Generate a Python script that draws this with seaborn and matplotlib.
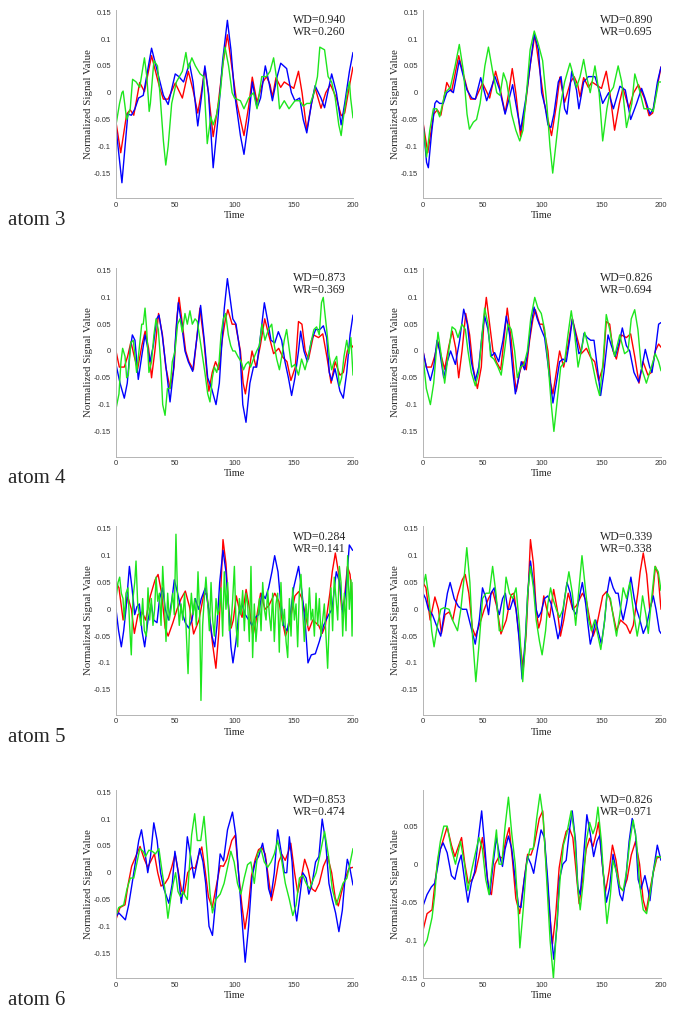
import matplotlib
matplotlib.use("Agg")
import matplotlib.pyplot as plt
import pandas as pd
import seaborn as sns

# ---- data: (time, value) pairs ----
# red = original signal, shared by both panels of a row
row1_red = [(0, -0.055), (4, -0.112), (9, -0.04), (12, -0.032), (15, -0.042), (20, 0.019), (24, 0.002), (30, 0.069),
            (37, 0.008), (40, -0.012), (44, -0.012), (50, 0.018), (56, -0.01), (61, 0.04), (65, 0.005), (69, -0.038),
            (72, 0.0), (75, 0.045), (78, 0.0), (82, -0.082), (86, -0.025), (90, 0.05), (94, 0.108), (97, 0.06),
            (102, -0.02), (108, -0.08), (112, -0.025), (115, 0.029), (119, -0.018), (124, 0.02), (127, 0.03),
            (130, 0.015), (132, -0.008), (135, 0.028), (139, 0.01), (142, 0.02), (146, 0.014), (150, 0.008),
            (154, 0.04), (157, 0.0), (161, -0.07), (165, -0.02), (168, 0.009), (173, -0.029), (177, 0.0),
            (181, 0.015), (186, -0.01), (190, -0.043), (193, -0.038), (197, 0.013), (200, 0.048)]
a3L_blue = [(0, -0.065), (5, -0.168), (10, -0.04), (13, -0.042), (16, -0.03), (19, -0.01), (23, -0.005), (30, 0.083),
            (36, 0.03), (40, -0.005), (44, -0.022), (50, 0.035), (53, 0.03), (57, 0.02), (62, 0.055), (65, 0.02),
            (69, -0.062), (72, -0.01), (75, 0.05), (78, 0.0), (82, -0.14), (86, -0.05), (90, 0.06), (94, 0.135),
            (97, 0.08), (100, 0.0), (105, -0.08), (108, -0.115), (112, -0.05), (115, 0.02), (119, -0.028),
            (122, -0.01), (126, 0.05), (129, 0.02), (132, -0.015), (136, 0.03), (139, 0.055), (144, 0.045),
            (148, 0.0), (151, -0.015), (155, -0.01), (158, -0.05), (161, -0.075), (165, -0.02), (168, 0.013),
            (173, -0.01), (176, -0.028), (182, 0.035), (186, 0.0), (190, -0.06), (193, -0.02), (197, 0.04),
            (200, 0.075)]
a3L_green = [(0, -0.06), (3, -0.02), (5, 0.0), (6, 0.003), (9, -0.05), (12, -0.03), (14, 0.025), (17, 0.02),
             (20, 0.01), (24, 0.065), (26, 0.03), (28, -0.035), (29, -0.02), (32, 0.06), (35, 0.05), (37, 0.0),
             (40, -0.09), (42, -0.135), (44, -0.1), (47, -0.02), (51, 0.02), (56, 0.04), (59, 0.075), (61, 0.045),
             (64, 0.065), (67, 0.05), (71, 0.035), (74, 0.03), (77, -0.095), (80, -0.045), (82, -0.06), (85, -0.04),
             (88, 0.0), (91, 0.07), (92, 0.085), (95, 0.05), (98, 0.0), (100, -0.01), (105, -0.015), (108, -0.03),
             (112, -0.01), (116, 0.0), (119, -0.03), (123, 0.03), (127, 0.03), (130, 0.04), (133, 0.065),
             (136, 0.02), (138, -0.03), (142, -0.015), (146, -0.03), (151, -0.015), (155, -0.015), (158, -0.025),
             (161, -0.02), (164, -0.02), (167, 0.0), (170, 0.03), (172, 0.085), (176, 0.08), (179, 0.03),
             (182, 0.02), (185, -0.01), (188, -0.06), (190, -0.08), (192, -0.045), (195, 0.0), (197, 0.02),
             (198, -0.01), (200, -0.047)]
a3R_blue = [(0, -0.055), (3, -0.13), (4.5, -0.14), (7, -0.08), (10, -0.02), (11.5, -0.015), (14, -0.02), (17, -0.02),
            (20, 0.0), (23, 0.005), (25.5, 0.0), (30.5, 0.06), (34, 0.03), (37, 0.005), (41, -0.01), (44, -0.012),
            (48.5, 0.028), (53.5, -0.015), (57.5, 0.01), (60.5, 0.03), (64.5, 0.005), (69, -0.04), (72.5, -0.01),
            (75.3, 0.015), (78, -0.02), (82, -0.07), (86.5, -0.01), (90, 0.05), (93.5, 0.11), (97, 0.08),
            (99.7, 0.0), (102.5, -0.025), (105, -0.06), (107.5, -0.065), (110, -0.04), (113.7, 0.02), (116, 0.03),
            (119, -0.03), (121, -0.04), (125, 0.04), (129, 0.005), (131, -0.03), (135, 0.02), (139, 0.03),
            (144.5, 0.03), (148.7, 0.0), (151, -0.02), (156, 0.0), (160, -0.03), (165.5, 0.012), (170, 0.005),
            (174.5, -0.05), (179.5, -0.02), (183.7, 0.008), (186.5, -0.01), (190.7, -0.04), (193.5, -0.03),
            (197, 0.02), (200, 0.048)]
a3R_green = [(0, -0.06), (3, -0.12), (5.7, -0.07), (8.7, -0.03), (11.5, -0.03), (14, -0.045), (18.5, 0.0), (23, 0.01),
             (27, 0.05), (30.5, 0.09), (34, 0.04), (37, -0.04), (39, -0.068), (42.3, -0.055), (45, -0.05),
             (48, -0.02), (52, 0.05), (55, 0.085), (58.5, 0.04), (62, 0.0), (64.7, -0.005), (67.6, 0.037),
             (70.3, 0.02), (74.5, -0.04), (78, -0.07), (81.3, -0.09), (84, -0.07), (87, 0.0), (90, 0.08),
             (93.5, 0.115), (97, 0.09), (100.5, 0.06), (104, -0.02), (106.7, -0.1), (109, -0.15), (112, -0.09),
             (115, -0.03), (119, 0.02), (123.5, 0.055), (126, 0.035), (129, 0.01), (132, 0.03), (135, 0.062),
             (137.5, 0.03), (140.5, 0.0), (144.5, 0.05), (148, 0.0), (151, -0.09), (154.5, -0.03), (157, 0.0),
             (160, 0.01), (164, 0.05), (167, 0.02), (171, -0.065), (175.5, -0.02), (178, 0.035), (182.5, 0.0),
             (185.7, -0.03), (190.7, -0.03), (193.5, -0.035), (198, 0.02), (200, 0.02)]

row2_red = [(0, 0.0), (2.8, -0.03), (7, -0.03), (9.8, -0.01), (12.6, 0.017), (15.4, -0.01), (18.2, -0.034),
            (21.8, 0.01), (24.6, 0.037), (27.5, 0.005), (30, -0.05), (32.8, 0.0), (35.9, 0.07), (39.2, 0.03),
            (42, -0.03), (45.7, -0.07), (49, -0.03), (51.3, 0.06), (53.2, 0.1), (56, 0.05), (58.8, 0.0),
            (61.6, -0.02), (65.3, -0.035), (68, 0.02), (70.8, 0.08), (74.2, 0.02), (77, -0.05), (78.4, -0.075),
            (81.2, -0.04), (84, -0.02), (86.8, -0.035), (89.6, 0.02), (92.4, 0.06), (94.4, 0.077), (98, 0.05),
            (100.8, 0.05), (105, 0.0), (107.3, -0.06), (109.2, -0.08), (112, -0.04), (114.8, 0.0), (118.2, -0.03),
            (121.8, 0.01), (125.5, 0.06), (128.9, 0.03), (133, -0.005), (137.3, 0.005), (140.9, -0.012),
            (144.3, -0.02), (147.6, -0.055), (151.3, -0.03), (154, 0.055), (156.9, 0.05), (159.7, 0.0),
            (162.5, -0.015), (166.7, 0.03), (170.9, 0.025), (174.5, 0.032), (177.9, -0.01), (181.5, -0.06),
            (184.9, -0.02), (189, -0.045), (191.9, -0.04), (195.2, 0.0), (198, 0.013), (200, 0.007)]
a4L_blue = [(0, -0.025), (3.4, -0.06), (7, -0.088), (9.5, -0.06), (11.8, 0.0), (13.8, 0.03), (16, 0.02),
            (18.8, -0.053), (21.7, -0.01), (24.5, 0.03), (26.4, 0.01), (28.7, -0.02), (31.5, 0.01), (34.3, 0.06),
            (36.3, 0.067), (39, 0.03), (42.2, -0.03), (45.6, -0.095), (48.4, -0.04), (50.4, 0.03), (52.6, 0.09),
            (55.4, 0.05), (58.2, 0.0), (61, -0.02), (64.7, -0.038), (68, 0.02), (71.4, 0.085), (74.5, 0.02),
            (77.4, -0.05), (80.7, -0.07), (84.4, -0.1), (87.2, -0.06), (89.2, 0.01), (91.4, 0.08), (94, 0.135),
            (96.2, 0.1), (98.6, 0.06), (101.3, 0.05), (104.6, 0.0), (107, -0.1), (109.7, -0.133), (113, -0.06),
            (116, -0.03), (118.7, -0.03), (121.5, 0.02), (125.2, 0.09), (127.7, 0.06), (130.8, 0.02), (134, 0.015),
            (137, 0.036), (139.8, 0.02), (142.6, -0.02), (145.5, -0.05), (148.2, -0.083), (151, -0.05), (154, 0.0),
            (155.8, 0.037), (158.6, 0.0), (161.5, -0.02), (165, 0.02), (168.5, 0.04), (172, 0.04), (175, 0.047),
            (177.8, 0.025), (180, -0.04), (182, -0.055), (184.8, -0.033), (189, -0.075), (191.8, -0.088),
            (194.7, -0.04), (197.5, 0.03), (200, 0.067)]
a4L_green = [(0, -0.108), (2.5, -0.08), (4.2, -0.02), (5.6, 0.005), (7.6, -0.01), (9, -0.05), (10.4, -0.045),
             (12.4, 0.015), (14.6, 0.02), (17.4, -0.04), (19.4, 0.0), (21.7, 0.05), (23, 0.05), (24.5, 0.08),
             (25.9, 0.04), (27.8, -0.04), (30, -0.02), (32, 0.03), (33.8, 0.06), (35.7, 0.04), (37.7, -0.02),
             (39.4, -0.1), (41.4, -0.12), (43.4, -0.07), (45.6, -0.07), (47.5, -0.02), (49.8, 0.0), (52, 0.05),
             (54, 0.06), (56, 0.035), (58.2, 0.07), (60.2, 0.05), (62.4, 0.075), (64.4, 0.05), (66.7, 0.06),
             (68.6, 0.055), (71, 0.02), (73, -0.01), (75, -0.04), (77.4, -0.08), (79.3, -0.095), (81.3, -0.05),
             (83, -0.03), (85, -0.04), (87, -0.02), (88.6, 0.03), (90.6, 0.06), (92.5, 0.07), (94.8, 0.03),
             (96.8, 0.01), (98.6, 0.0), (100.5, 0.0), (102.8, -0.01), (105.6, -0.02), (107.6, -0.035),
             (109.5, -0.025), (111.7, -0.02), (113.6, -0.03), (116, -0.015), (118.7, 0.0), (121, 0.01),
             (123.2, 0.05), (125.7, 0.02), (128.6, 0.04), (131.4, 0.05), (133.6, 0.01), (135.6, -0.015),
             (137.9, -0.035), (139.9, -0.01), (142, 0.02), (144, 0.04), (146.4, 0.0), (148.2, -0.03),
             (151, -0.025), (154, -0.045), (156.6, -0.015), (159.5, -0.035), (162.3, -0.01), (164.5, 0.015),
             (167, 0.04), (169.3, 0.045), (171.5, 0.03), (173.4, 0.09), (174.9, 0.1), (176.3, 0.07), (177.8, 0.04),
             (180, -0.01), (182, -0.035), (184, -0.02), (186.2, -0.01), (188.5, -0.065), (190.4, -0.05),
             (192.4, -0.01), (194.7, 0.02), (196.6, -0.005), (198.2, 0.025), (200, -0.045)]
a4R_blue = [(0, 0.0), (2.8, -0.03), (6.2, -0.055), (9, -0.03), (11.8, 0.02), (14, 0.0), (17.4, -0.05), (20.4, -0.02),
            (23.2, 0.0), (27.2, -0.025), (30.8, 0.02), (34.2, 0.078), (37.3, 0.05), (40.6, -0.02), (44, -0.055),
            (46.8, -0.03), (49.6, 0.03), (51.8, 0.065), (54.6, 0.04), (57.4, -0.01), (60.2, -0.003), (63.6, -0.02),
            (67.2, 0.02), (70, 0.065), (72.8, 0.03), (75.6, -0.04), (77.6, -0.08), (80.4, -0.05), (82.6, -0.02),
            (85.4, -0.035), (88.2, 0.0), (91, 0.05), (93.3, 0.082), (96, 0.06), (99.4, 0.04), (102.2, 0.025),
            (105.9, -0.04), (109.2, -0.097), (112, -0.06), (114.8, -0.02), (117.6, -0.015), (120.4, -0.02),
            (123.2, 0.02), (125.5, 0.06), (128.3, 0.03), (131, -0.005), (133, 0.0), (135.3, 0.033), (138, 0.025),
            (140.9, 0.02), (143.7, 0.02), (147, -0.04), (149.3, -0.083), (152, -0.04), (155.5, 0.03),
            (158.3, 0.01), (161.6, -0.01), (165.3, 0.02), (167.5, 0.043), (170.9, 0.01), (173.7, 0.0),
            (177.3, -0.04), (181.2, -0.058), (184, -0.03), (186.8, 0.003), (190.5, -0.03), (192.4, -0.04),
            (195.2, 0.0), (198, 0.05), (200, 0.053)]
a4R_green = [(0, -0.01), (2.8, -0.07), (6.2, -0.1), (9, -0.06), (11.2, 0.0), (12.6, 0.035), (14.8, 0.0), (18.2, -0.06),
             (21, -0.01), (24.4, 0.045), (27.2, 0.04), (29.4, 0.025), (32.8, 0.05), (35.6, 0.04), (37.8, 0.0),
             (40.6, -0.04), (44, -0.065), (46.8, -0.04), (49.6, 0.03), (51.8, 0.08), (54.6, 0.05), (56.8, -0.01),
             (59.6, -0.015), (63, -0.03), (65.7, -0.045), (68.5, 0.0), (71.4, 0.05), (74.2, 0.04), (77, 0.0),
             (79.3, -0.05), (82, -0.03), (84.9, -0.025), (87.7, 0.0), (90.5, 0.06), (93.9, 0.1), (96.6, 0.08),
             (99.4, 0.07), (102.2, 0.04), (105, -0.02), (107.8, -0.1), (110, -0.15), (112.9, -0.09), (115.7, -0.03),
             (119, -0.02), (121.8, 0.03), (124.6, 0.075), (127.5, 0.03), (130.3, -0.03), (133, 0.0), (135.9, 0.035),
             (138.7, 0.01), (142, -0.02), (145.6, -0.06), (148.4, -0.083), (151.3, -0.02), (154, 0.068),
             (156.9, 0.04), (161, -0.01), (165.3, 0.03), (169.4, -0.005), (172.3, 0.0), (175, 0.06), (177.9, 0.077),
             (180.6, 0.04), (183.4, -0.03), (187.7, -0.06), (191.9, -0.03), (195.2, -0.005), (198, -0.02),
             (200, -0.037)]

row3_red = [(0, 0.05), (2.5, 0.04), (6, -0.02), (10, 0.023), (13, 0.0), (15.5, -0.045), (18.5, -0.01), (22, -0.005),
            (25, -0.02), (29, 0.025), (33, 0.055), (35.5, 0.065), (38.5, 0.03), (41.5, -0.035), (44, -0.05),
            (48, -0.025), (51.5, 0.0), (55, 0.02), (58.5, 0.034), (62, 0.005), (65.5, -0.046), (70, -0.02),
            (74, 0.027), (76.5, 0.03), (79, -0.015), (81.5, -0.065), (84.3, -0.11), (86.7, -0.045), (88.7, 0.05),
            (90.3, 0.13), (92.8, 0.085), (95.1, 0.0), (97.2, -0.035), (99, -0.02), (101.5, 0.025), (104, 0.0),
            (106.4, -0.015), (109.8, 0.037), (112.8, 0.0), (115.5, -0.05), (118.3, -0.02), (122, 0.03),
            (125.8, 0.0), (129, 0.007), (134, 0.03), (137.4, 0.015), (140.2, -0.02), (143, -0.05), (146, -0.03),
            (151, 0.025), (154.2, 0.033), (157, 0.02), (159.8, -0.01), (162.6, -0.04), (166, -0.02), (171, -0.03),
            (174, -0.045), (176.7, -0.03), (180.5, 0.03), (182.5, 0.07), (185.1, 0.105), (188, 0.065), (190.5, 0.0),
            (192.5, 0.015), (195.3, 0.08), (197.5, 0.065), (200, 0.0)]
a5L_blue = [(0, 0.0), (2.2, -0.04), (4.5, -0.07), (6.5, -0.04), (8.4, 0.0), (11.3, 0.08), (13.5, 0.04), (15.8, -0.01),
            (17.7, 0.005), (19.7, 0.01), (21.9, -0.04), (24.2, -0.07), (27, -0.02), (29.8, 0.01), (31.8, -0.02),
            (34.6, -0.025), (36.8, 0.02), (39.4, 0.04), (41.6, 0.0), (44.4, -0.02), (47.3, 0.02), (49.2, 0.055),
            (52, 0.03), (54.9, 0.0), (58.5, -0.025), (61.3, -0.035), (64.1, -0.02), (66.9, 0.02), (69.8, 0.0),
            (72, 0.02), (75.4, 0.04), (78.2, 0.0), (81, -0.05), (83.3, -0.07), (85.2, -0.03), (87.5, 0.05),
            (90.3, 0.11), (92.8, 0.07), (95.1, 0.0), (97, -0.07), (98.7, -0.1), (101.3, -0.06), (103.5, -0.01),
            (106.3, 0.01), (109.1, -0.01), (112, -0.02), (114.8, -0.03), (117.6, -0.015), (120.4, -0.01),
            (123.2, 0.03), (126, 0.02), (128.8, 0.04), (131.6, 0.07), (133.9, 0.1), (136.7, 0.07), (138.7, 0.02),
            (141.5, -0.03), (144.3, -0.04), (147.1, -0.01), (149.9, 0.04), (154.1, 0.08), (157, 0.03),
            (159.8, -0.03), (162, -0.1), (164.8, -0.085), (168.2, -0.083), (171.6, -0.06), (175.2, -0.03),
            (179.5, -0.01), (182.3, 0.0), (185.9, 0.07), (188.7, 0.05), (191.6, -0.01), (194.1, 0.04),
            (196.9, 0.12), (199.7, 0.11)]
a5L_green = [(0, 0.02), (1.7, 0.05), (3.1, 0.06), (4.5, 0.03), (5.9, 0.02), (7.0, -0.02), (8.4, 0.03), (10.1, 0.04),
             (11.5, -0.03), (12.9, -0.085), (14.3, 0.02), (15.8, 0.05), (16.9, 0.09), (18.3, 0.01), (19.7, -0.01),
             (21.1, -0.03), (22.5, 0.02), (23.9, -0.04), (25.6, -0.05), (27.0, 0.04), (28.4, -0.02), (29.8, 0.02),
             (31.2, -0.03), (32.6, 0.0), (33.8, 0.06), (35.2, 0.015), (36.6, 0.03), (38.0, -0.03), (39.4, 0.08),
             (40.8, 0.02), (42.2, -0.06), (43.6, 0.03), (45.0, -0.02), (46.4, 0.0), (47.8, 0.03), (49.2, -0.01),
             (50.6, 0.14), (52.0, 0.02), (53.4, -0.03), (54.9, 0.01), (56.3, -0.02), (57.9, 0.03), (59.4, -0.05),
             (60.8, -0.12), (62.2, -0.02), (63.6, 0.03), (65.0, -0.01), (66.4, 0.02), (67.8, -0.03), (69.2, 0.07),
             (70.6, -0.01), (71.7, -0.17), (73.1, -0.03), (74.5, 0.02), (75.9, 0.06), (77.4, 0.01), (78.8, -0.04),
             (80.2, 0.05), (81.6, -0.02), (83.0, -0.05), (84.4, 0.02), (85.8, -0.01), (87.2, 0.0), (88.6, 0.04),
             (90.0, -0.05), (91.4, 0.07), (92.8, 0.0), (94.2, 0.05), (95.6, -0.04), (97.0, -0.03), (98.5, 0.02),
             (99.9, 0.08), (101.3, -0.03), (102.7, -0.07), (104.1, 0.02), (105.5, -0.01), (106.9, 0.035),
             (108.3, -0.04), (109.7, 0.03), (111.1, 0.01), (112.5, -0.06), (113.9, 0.08), (115.3, -0.09),
             (116.7, 0.01), (118.1, -0.06), (119.5, -0.02), (121.0, 0.02), (122.4, -0.04), (123.8, 0.05),
             (125.2, 0.0), (126.6, -0.02), (128.0, 0.035), (129.4, -0.01), (130.8, -0.04), (132.2, 0.03),
             (133.6, -0.06), (135.0, 0.01), (136.4, 0.03), (137.8, -0.08), (139.2, 0.05), (140.6, -0.03),
             (142.1, 0.0), (143.5, -0.06), (144.9, -0.09), (146.3, 0.02), (147.7, -0.05), (149.1, 0.04),
             (150.5, -0.02), (151.9, 0.01), (153.3, -0.07), (154.7, 0.03), (156.1, 0.065), (157.5, 0.0),
             (158.9, -0.06), (160.3, 0.01), (161.7, -0.03), (163.2, 0.04), (164.6, -0.02), (166.0, 0.0),
             (167.4, -0.05), (168.8, 0.03), (170.2, -0.03), (171.6, 0.02), (173.0, -0.05), (174.4, -0.02),
             (175.8, 0.01), (177.2, -0.05), (178.6, -0.11), (180.0, -0.02), (181.4, 0.04), (182.8, -0.04),
             (184.2, 0.06), (185.7, 0.02), (187.1, -0.02), (188.5, 0.08), (189.9, 0.05), (191.3, -0.05),
             (192.7, 0.03), (194.1, -0.04), (195.5, 0.1), (196.9, 0.0), (198.3, 0.055), (199.2, -0.05),
             (200.0, 0.05)]
a5R_blue = [(0, 0.03), (2.2, 0.02), (4.5, 0.0), (7.9, -0.01), (11.3, -0.03), (14.9, -0.05), (17.7, -0.01), (20.5, 0.03),
            (22.8, 0.05), (26.2, 0.02), (29.8, 0.005), (33.2, 0.0), (36.6, 0.0), (40, -0.03), (43.9, -0.065),
            (47.3, -0.02), (50, 0.04), (52.9, 0.02), (55.1, -0.01), (57.1, 0.03), (59.9, 0.04), (62.7, 0.0),
            (64.1, -0.01), (66.9, 0.02), (69.2, 0.03), (71.2, 0.0), (73.1, 0.0), (75.9, 0.02), (78.2, 0.0),
            (80.5, -0.05), (83.3, -0.13), (86.1, -0.05), (88, 0.03), (90.3, 0.09), (92.8, 0.05), (95.1, 0.0),
            (97, -0.015), (99.3, -0.005), (102.1, 0.02), (104.9, 0.025), (107.7, 0.01), (110.5, -0.02),
            (113.4, -0.055), (116.2, -0.03), (119, 0.02), (121, 0.05), (123.8, 0.03), (126, 0.0), (128.8, -0.01),
            (131.1, 0.02), (133.9, 0.05), (136.7, 0.01), (138.7, -0.03), (140.6, -0.065), (142.9, -0.045),
            (145.1, -0.02), (147.1, -0.04), (149.9, -0.065), (152.7, -0.02), (154.7, 0.03), (157, 0.06),
            (159.8, 0.04), (162, 0.03), (164, 0.03), (166.2, 0.0), (168.2, -0.02), (171, 0.01), (174.7, 0.06),
            (177.5, 0.02), (179.5, 0.0), (182.3, -0.02), (185.1, -0.045), (187.9, -0.03), (190.7, 0.0),
            (193.5, 0.025), (195.8, 0.0), (198.6, -0.04), (200, -0.045)]
a5R_green = [(0, 0.04), (2.2, 0.065), (5.1, 0.02), (7.3, -0.04), (9.3, -0.07), (12.1, -0.03), (14.9, 0.0),
             (17.7, 0.003), (21.9, 0.0), (24.8, -0.02), (29, -0.04), (31.8, 0.0), (34.6, 0.06), (36.8, 0.115),
             (39.4, 0.05), (41.6, -0.05), (44.4, -0.135), (47.3, -0.06), (50, 0.02), (52.9, 0.03), (55.7, 0.03),
             (58.5, 0.08), (61.3, 0.03), (64.1, -0.04), (66.4, -0.04), (69.8, 0.06), (72.6, 0.03), (75.4, 0.02),
             (78.2, 0.04), (81, -0.03), (83.8, -0.135), (86.1, -0.06), (88, 0.03), (90.3, 0.08), (92.8, 0.04),
             (95.1, -0.02), (97.9, -0.06), (100.1, -0.085), (103, -0.04), (104.9, 0.01), (107.2, 0.04),
             (109.1, 0.02), (112, 0.0), (114.8, -0.015), (117.6, 0.0), (120.4, 0.04), (122.6, 0.07), (125.5, 0.03),
             (128.3, -0.03), (131.1, 0.04), (133.6, 0.1), (136.4, 0.04), (139.2, -0.02), (141.5, -0.04),
             (144.3, -0.02), (147.1, -0.05), (149.4, -0.075), (152.2, -0.03), (154.7, 0.03), (157.5, 0.02),
             (160.3, -0.02), (162.6, -0.05), (165.4, -0.01), (168.2, 0.04), (171, 0.02), (173.8, 0.05),
             (177.2, -0.01), (180, -0.05), (182.3, -0.02), (184.5, 0.025), (187.3, -0.01), (189.3, -0.045),
             (192.1, 0.02), (194.9, 0.08), (197.7, 0.07), (200, 0.035)]

row4_red = [(0, -0.087), (3.4, -0.065), (7.6, -0.06), (10.4, -0.02), (13.2, 0.012), (16.6, 0.03), (20.3, 0.049),
            (23.9, 0.025), (26.8, 0.01), (30.1, 0.025), (32.4, 0.035), (35.2, 0.0), (38, -0.025), (41.4, -0.02),
            (44.2, -0.01), (47, 0.01), (49.9, 0.035), (52.7, 0.0), (55.5, -0.035), (57.5, -0.04), (60.5, 0.0),
            (63.9, 0.01), (66.8, 0.008), (69.6, 0.032), (72.4, 0.048), (75.2, 0.005), (78, -0.045), (81.2, -0.065),
            (84.2, -0.03), (87.9, 0.013), (90.7, 0.012), (93.5, 0.025), (97.7, 0.06), (100.6, 0.07), (103.4, 0.0),
            (106.2, -0.06), (108.8, -0.105), (111.6, -0.065), (114.4, -0.005), (117.5, 0.025), (120.3, 0.043),
            (123, 0.047), (125.9, 0.035), (128.7, -0.01), (131.2, -0.052), (134.2, -0.02), (137.2, 0.02),
            (140, 0.034), (142.8, 0.023), (145.6, 0.04), (147.5, 0.055), (150.7, 0.0), (153.3, -0.037),
            (156.3, -0.01), (159.2, 0.025), (162.2, 0.005), (165.3, -0.03), (168.2, -0.035), (171.5, -0.02),
            (175, 0.012), (178.6, 0.03), (182, 0.0), (185, -0.047), (187.6, -0.062), (190.5, -0.035),
            (193.4, -0.012), (196.5, 0.008), (200, 0.01)]
a6L_blue = [(0, -0.082), (2.3, -0.075), (4.5, -0.08), (7.9, -0.088), (10.7, -0.06), (13.6, -0.02), (16.4, 0.02),
            (19.2, 0.06), (21.5, 0.08), (24.3, 0.04), (26.8, 0.0), (29.1, 0.03), (31.9, 0.093), (34.7, 0.06),
            (37.6, 0.0), (40.4, -0.03), (44.6, -0.057), (47.5, -0.02), (49.7, 0.04), (52.5, 0.0), (55.1, -0.057),
            (57.3, -0.02), (60.2, 0.067), (63, 0.03), (65.8, -0.01), (68.6, 0.02), (70.6, 0.045), (73.4, 0.02),
            (75.7, -0.02), (78.5, -0.1), (81.4, -0.117), (84.2, -0.05), (87.9, 0.035), (90.7, 0.022), (94.1, 0.08),
            (98.3, 0.113), (101.1, 0.07), (103.4, 0.0), (105.4, -0.06), (109, -0.167), (111.9, -0.1),
            (114.7, -0.01), (117.5, 0.02), (120.3, 0.03), (123.7, 0.055), (126.6, 0.02), (128.8, -0.03),
            (130.8, -0.045), (133.6, 0.0), (136.4, 0.08), (139.3, 0.04), (142.1, 0.0), (144.1, 0.0),
            (146.3, 0.067), (148.6, 0.02), (150.6, -0.06), (152.5, -0.09), (155.4, -0.04), (157.6, 0.0),
            (160.5, -0.01), (162.7, -0.04), (165.5, -0.02), (168.4, 0.02), (171.2, 0.03), (174, 0.1),
            (176.8, 0.06), (179.7, -0.02), (182.5, -0.05), (185.3, -0.075), (188.1, -0.11), (191, -0.07),
            (192.9, -0.02), (195.2, 0.025), (197.2, 0.01), (200, -0.023)]
a6L_green = [(0, -0.08), (2.3, -0.065), (6.5, -0.06), (9.3, -0.03), (12.1, -0.01), (15, -0.01), (17.8, 0.02),
             (20.1, 0.045), (22.9, 0.04), (24.9, 0.03), (27.7, 0.042), (30.5, 0.04), (33.3, 0.035), (36.2, 0.045),
             (39, 0.0), (41.2, -0.03), (43.8, -0.085), (46, -0.05), (48.3, -0.02), (50.3, 0.0), (52.3, -0.035),
             (54.5, -0.045), (56.5, -0.035), (58.8, -0.045), (60.2, -0.05), (61.6, 0.0), (63.8, 0.07),
             (66.4, 0.11), (68.6, 0.06), (71.5, 0.06), (74.3, 0.105), (77.1, 0.03), (79.4, -0.04), (81.4, -0.075),
             (84.2, -0.05), (87.9, -0.04), (91.2, -0.02), (94.1, 0.01), (96.9, 0.04), (99.7, 0.02), (102.5, -0.02),
             (105.4, -0.04), (108.2, -0.01), (111, 0.015), (113.8, 0.02), (116.7, -0.02), (119.5, 0.035),
             (122.3, 0.045), (125.1, 0.02), (128, 0.01), (130.8, 0.02), (133.6, 0.035), (136.4, 0.06),
             (139.3, 0.03), (142.9, -0.02), (146.3, -0.05), (149.2, -0.08), (152, -0.06), (154.8, -0.01),
             (157.6, -0.005), (160.5, -0.02), (163.3, -0.03), (166.1, -0.015), (168.9, 0.0), (171.8, 0.03),
             (176, 0.077), (179.4, 0.03), (182.5, -0.03), (185.9, -0.06), (188.7, -0.04), (191.5, -0.02),
             (194.9, -0.01), (197.7, 0.02), (200, 0.045)]
a6R_blue = [(0, -0.055), (3.4, -0.04), (7, -0.03), (9.9, -0.025), (12.7, 0.0), (14.6, 0.02), (16.9, 0.028),
            (20.3, 0.015), (23.9, -0.015), (26.8, -0.02), (29.6, 0.0), (32.1, 0.012), (34.9, -0.02), (37.7, -0.05),
            (40.6, -0.025), (43.4, -0.01), (46.2, 0.03), (49.3, 0.07), (52.1, 0.02), (54.1, -0.02), (56.1, -0.04),
            (58.9, 0.0), (61.7, 0.035), (64.5, 0.01), (66.8, -0.003), (69, 0.02), (71.8, 0.037), (74.6, 0.02),
            (77.5, -0.02), (80.3, -0.055), (82.3, -0.057), (85.1, -0.02), (87.9, 0.01), (90.7, 0.0), (93, -0.012),
            (96.3, 0.02), (99.2, 0.045), (102, 0.035), (104.8, -0.02), (107.6, -0.09), (109.9, -0.125),
            (112.7, -0.08), (114.6, -0.02), (117.5, 0.0), (120.3, 0.005), (123.1, 0.045), (125.4, 0.07),
            (128.2, 0.03), (130.1, -0.03), (132.1, -0.04), (134.4, 0.0), (137.7, 0.065), (140.6, 0.04),
            (143.4, 0.01), (146.2, 0.03), (148.5, 0.038), (151.3, -0.01), (154.1, -0.05), (156.9, -0.03),
            (159.7, 0.013), (162.5, -0.01), (165.4, -0.04), (167.6, -0.048), (170.4, -0.02), (173.2, 0.03),
            (175.8, 0.06), (178.6, 0.04), (180.8, -0.02), (183.1, -0.033), (186.5, -0.015), (189.3, -0.035),
            (190.7, -0.048), (193.5, -0.01), (196.9, 0.025), (199.2, 0.01), (200, 0.005)]
a6R_green = [(0, -0.11), (3.4, -0.1), (7.6, -0.07), (9.9, -0.04), (11.8, 0.0), (14.6, 0.03), (17.5, 0.05), (20.3, 0.05),
             (23.9, 0.02), (27.3, 0.0), (31.5, 0.03), (34.9, 0.0), (37.7, -0.035), (40.6, -0.01), (43.4, 0.01),
             (47, 0.035), (49.9, 0.02), (52.7, -0.02), (55.5, -0.04), (58.3, 0.0), (61.7, 0.045), (63.9, 0.0),
             (66.2, 0.0), (69, 0.05), (71.8, 0.088), (74.6, 0.04), (77.5, 0.0), (80.3, -0.07), (81.4, -0.11),
             (84.2, -0.06), (87, 0.0), (89.9, 0.02), (92.7, 0.02), (95.5, 0.06), (98.3, 0.092), (101.1, 0.06),
             (103.9, -0.02), (106.8, -0.1), (109.6, -0.15), (112.4, -0.08), (115.2, -0.02), (118, 0.025),
             (120.8, 0.04), (124.5, 0.07), (127.3, 0.04), (130.1, -0.03), (132.1, -0.06), (134.9, -0.02),
             (137.2, 0.03), (140, 0.055), (142.8, 0.04), (145.1, 0.05), (147, 0.075), (149.9, 0.03), (152.7, -0.04),
             (154.6, -0.078), (157.5, -0.04), (159.7, 0.005), (162.5, -0.01), (165.4, -0.03), (168.2, -0.035),
             (171, -0.01), (173.8, 0.03), (176.6, 0.058), (179.4, 0.03), (182.3, -0.03), (185.1, -0.06),
             (187.9, -0.065), (190.7, -0.04), (193.5, -0.01), (196.3, 0.01), (199.2, 0.01), (200, 0.008)]

atom_labels = ["atom 3", "atom 4", "atom 5", "atom 6"]
wd_values = [[0.940, 0.890], [0.873, 0.826], [0.284, 0.339], [0.853, 0.826]]
wr_values = [[0.260, 0.695], [0.369, 0.694], [0.141, 0.338], [0.474, 0.971]]
x_ticks = [0, 50, 100, 150, 200]
y_ticks = [-0.15, -0.1, -0.05, 0, 0.05, 0.1, 0.15]
y_tick_labels = ["-0.15", "-0.1", "-0.05", "0", "0.05", "0.1", "0.15"]
y_ticks_last = [-0.15, -0.1, -0.05, 0, 0.05]
y_tick_labels_last = ["-0.15", "-0.1", "-0.05", "0", "0.05"]

panels = [
    [(row1_red, a3L_blue, a3L_green), (row1_red, a3R_blue, a3R_green)],
    [(row2_red, a4L_blue, a4L_green), (row2_red, a4R_blue, a4R_green)],
    [(row3_red, a5L_blue, a5L_green), (row3_red, a5R_blue, a5R_green)],
    [(row4_red, a6L_blue, a6L_green), (row4_red, a6R_blue, a6R_green)],
]

sns.set_style("white")
plt.rcParams['font.family'] = ['Liberation Serif', 'DejaVu Serif']

W, H = 678, 1014
fig = plt.figure(figsize=(W / 100, H / 100), dpi=100)

col_left = [116, 423]
col_width = [237, 238]
row_bottom = [198.3, 456.6, 714.9, 978.3]
ax_h = 188.7
label_base = [225, 483, 742, 1005]

spine_col = '#b4b4b4'
tick_font = ['Liberation Sans', 'DejaVu Sans']


def to_df(pairs):
    return pd.DataFrame(pairs, columns=['Time', 'Value'])


for r in range(4):
    for c in range(2):
        ax = fig.add_axes([col_left[c] / W, 1 - row_bottom[r] / H, col_width[c] / W, ax_h / H])
        red, blue, green = panels[r][c]
        for pairs, colr in [(red, '#ff0000'), (blue, '#0000ff'), (green, '#1ee61e')]:
            sns.lineplot(data=to_df(pairs), x='Time', y='Value', ax=ax, color=colr,
                         linewidth=1.0, estimator=None, sort=False)

        ax.set_xlim(0, 200)
        if r == 3 and c == 1:
            ax.set_ylim(-0.15, 0.098)
            ax.set_yticks(y_ticks_last, y_tick_labels_last, fontfamily=tick_font, fontsize=5.5)
        else:
            ax.set_ylim(-0.197, 0.155)
            ax.set_yticks(y_ticks, y_tick_labels, fontfamily=tick_font, fontsize=5.5)
        ax.set_xticks(x_ticks, [str(v) for v in x_ticks], fontfamily=tick_font, fontsize=5.5)

        for s in ['top', 'right']:
            ax.spines[s].set_visible(False)
        for s in ['left', 'bottom']:
            ax.spines[s].set_color(spine_col)
            ax.spines[s].set_linewidth(0.7)
        ax.tick_params(axis='y', direction='out', length=2, width=0.6, color=spine_col,
                       pad=1.5, labelcolor='#333333')
        ax.tick_params(axis='x', direction='in', length=2, width=0.6, color=spine_col,
                       pad=2.5, labelcolor='#333333')

        ax.set_xlabel('Time', fontsize=7.5)
        ax.set_ylabel('Normalized Signal Value', fontsize=7.8)
        ax.xaxis.set_label_coords(0.5, -0.067)
        ax.yaxis.set_label_coords(-0.097, 0.5)

        tr = ax.get_xaxis_transform()
        ax.text(149, 1 - 13.5 / ax_h, f"WD={wd_values[r][c]:.3f}", transform=tr,
                fontsize=8.6, va='baseline', ha='left')
        ax.text(149, 1 - 25.5 / ax_h, f"WR={wr_values[r][c]:.3f}", transform=tr,
                fontsize=8.6, va='baseline', ha='left')

    fig.text(8 / W, 1 - label_base[r] / H, atom_labels[r], fontsize=15, va='baseline', ha='left')

fig.savefig('out.png', dpi=100)
